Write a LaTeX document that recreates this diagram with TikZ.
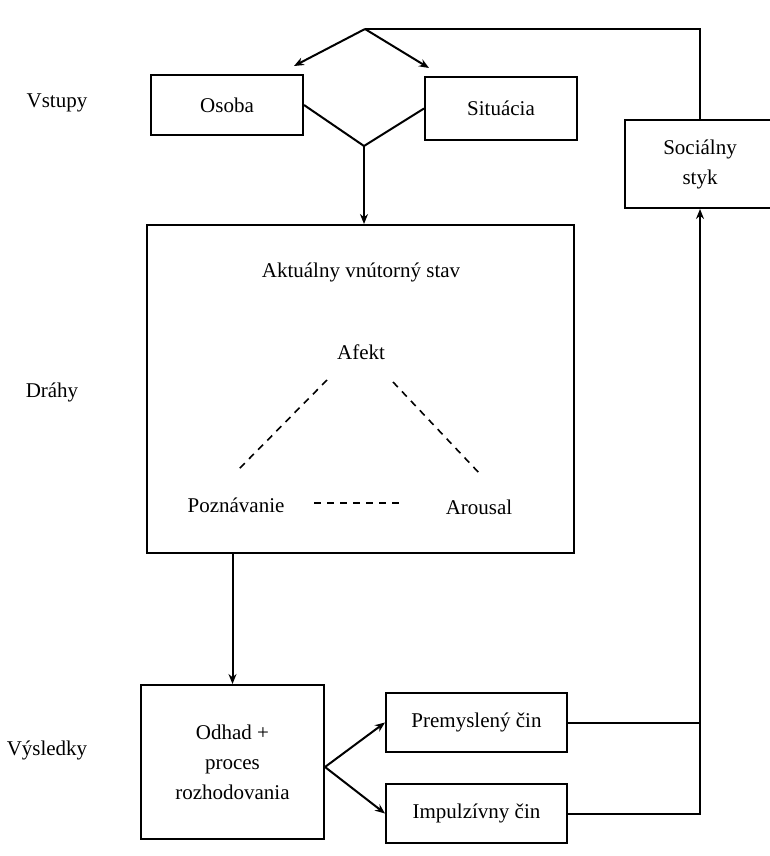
\documentclass[tikz,border=0pt]{standalone}
\usepackage{fontspec}
\setmainfont{Liberation Serif}
\usetikzlibrary{arrows.meta,calc}

\begin{document}
\begin{tikzpicture}[
    x=0.5pt,y=-0.5pt,
    every node/.style={font=\fontsize{10.5}{15}\selectfont},
    box/.style={draw,align=center,inner sep=0pt},
    dashline/.style={line width=0.8pt,dash pattern=on 3.5pt off 3pt},
    >={Stealth[length=5pt,width=4pt]},
    line width=1pt]
  \useasboundingbox (0,0) rectangle (770,856);
  % row labels
  \node (vstupy) at (57,103) {Vstupy};
  \node (drahy) at (52,392) {Dráhy};
  \node (vysledky) at (47,750) {Výsledky};
  % inputs
  \node[box,minimum width=76pt,minimum height=30pt] (osoba) at (227,105) {Osoba};
  \node[box,minimum width=76pt,minimum height=31.5pt] (situacia) at (501,108.5) {Situácia};
  \node[box,minimum width=75pt,minimum height=44pt] (socialny) at (700,164) {Sociálny\\styk};
  \coordinate (top) at (365,29);
  \coordinate (merge) at (364,146);
  % internal state
  \node[box,minimum width=213.5pt,minimum height=164pt] (stav) at (360.5,389) {};
  \node (nadpis) at (361,272) {Aktuálny vnútorný stav};
  \node (afekt) at (361,352) {Afekt};
  \node (poznavanie) at (236,505) {Poznávanie};
  \node (arousal) at (479,507) {Arousal};
  % outcomes
  \node[box,minimum width=91.5pt,minimum height=77pt] (odhad) at (232.5,762) {Odhad +\\proces\\rozhodovania};
  \node[box,minimum width=90.5pt,minimum height=29.5pt] (premysleny) at (476.5,722.5) {Premyslený čin};
  \node[box,minimum width=90.5pt,minimum height=29.5pt] (impulzivny) at (476.5,813.5) {Impulzívny čin};
  % connectors
  \draw[->] (top) -- ($(osoba.north east)+(-10,-8)$);
  \draw[->] (top) -- ($(situacia.north west)+(5,-8)$);
  \draw (socialny.north) |- (top);
  \draw (osoba.east) -- (merge) -- (situacia.west);
  \draw[->] (merge) -- (merge |- stav.north);
  \draw[dashline] ($(afekt)+(-34,28)$) -- ($(poznavanie)+(2,-35)$);
  \draw[dashline] ($(afekt)+(32,30)$) -- ($(arousal)+(2,-32)$);
  \draw[dashline] ($(poznavanie)+(78,-2)$) -- ($(arousal)+(-74,-4)$);
  \draw[->] (stav.south -| odhad.north) -- (odhad.north);
  \draw[->] ([yshift=-2.5pt]odhad.east) -- (premysleny.west);
  \draw[->] ([yshift=-2.5pt]odhad.east) -- (impulzivny.west);
  \draw (premysleny.east) -- (premysleny.east -| socialny.south);
  \draw[->] (impulzivny.east) -| (socialny.south);
\end{tikzpicture}
\end{document}
